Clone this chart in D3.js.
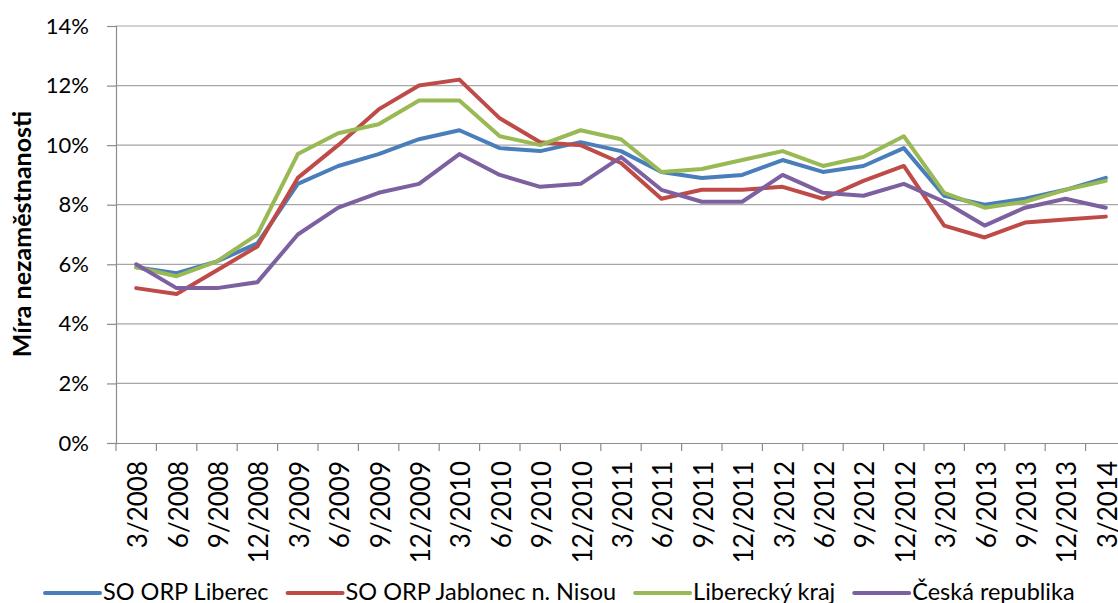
<!DOCTYPE html>
<html>
<head>
<meta charset="utf-8">
<script src="https://cdn.jsdelivr.net/npm/d3@7"></script>
<style>
  body { margin: 0; background: #fff; }
  text { font-family: Lato, "Noto Sans", sans-serif; fill: #000; }
</style>
</head>
<body>
<svg id="chart" width="1118" height="603"></svg>
<script>
const categories = ["3/2008","6/2008","9/2008","12/2008","3/2009","6/2009","9/2009","12/2009",
  "3/2010","6/2010","9/2010","12/2010","3/2011","6/2011","9/2011","12/2011",
  "3/2012","6/2012","9/2012","12/2012","3/2013","6/2013","9/2013","12/2013","3/2014"];

const liberec = [5.9,5.7,6.1,6.7,8.7,9.3,9.7,10.2,10.5,9.9,9.8,10.1,9.8,9.1,8.9,9.0,9.5,9.1,9.3,9.9,8.3,8.0,8.2,8.5,8.9];
const jablonec = [5.2,5.0,5.8,6.6,8.9,10.0,11.2,12.0,12.2,10.9,10.1,10.0,9.4,8.2,8.5,8.5,8.6,8.2,8.8,9.3,7.3,6.9,7.4,7.5,7.6];
const kraj = [5.9,5.6,6.1,7.0,9.7,10.4,10.7,11.5,11.5,10.3,10.0,10.5,10.2,9.1,9.2,9.5,9.8,9.3,9.6,10.3,8.4,7.9,8.1,8.5,8.8];
const cr = [6.0,5.2,5.2,5.4,7.0,7.9,8.4,8.7,9.7,9.0,8.6,8.7,9.6,8.5,8.1,8.1,9.0,8.4,8.3,8.7,8.1,7.3,7.9,8.2,7.9];

const seriesNames = ["SO ORP Liberec", "SO ORP Jablonec n. Nisou", "Liberecký kraj", "Česká republika"];
const seriesColors = ["#4a7ebb", "#be4b48", "#98b954", "#7d60a0"];
const yTicks = [0, 2, 4, 6, 8, 10, 12, 14];

const series = [liberec, jablonec, kraj, cr].map((values, i) => ({
  name: seriesNames[i], color: seriesColors[i], values: values
}));

const svg = d3.select("#chart");
const plotLeft = 116, plotRight = 1126, plotTop = 26, plotBottom = 443;

const x = d3.scaleBand()
  .domain(categories)
  .range([plotLeft, plotRight])
  .padding(0);

const y = d3.scaleLinear()
  .domain([0, 14])
  .range([plotBottom, plotTop]);

// gridlines
svg.append("g")
  .selectAll("line")
  .data(yTicks.filter(d => d > 0))
  .enter().append("line")
  .attr("x1", plotLeft).attr("x2", plotRight)
  .attr("y1", d => y(d)).attr("y2", d => y(d))
  .attr("stroke", "#a6a6a6")
  .attr("stroke-width", 1.2);

// y axis
const yAxis = svg.append("g")
  .attr("transform", `translate(${plotLeft},0)`)
  .call(d3.axisLeft(y).tickValues(yTicks).tickSize(9).tickPadding(18).tickFormat(d => d + "%"));
yAxis.selectAll("path, line").attr("stroke", "#8c8c8c").attr("stroke-width", 1.2);
yAxis.selectAll("text")
  .style("font-size", "22px")
  .attr("fill", "#000");

// x axis
const xAxis = svg.append("g")
  .attr("transform", `translate(0,${plotBottom})`)
  .call(d3.axisBottom(x).tickSize(0).tickSizeOuter(0));
xAxis.select("path").attr("stroke", "#8c8c8c").attr("stroke-width", 1.2);
xAxis.selectAll("text")
  .style("font-size", "26px")
  .attr("fill", "#000")
  .attr("text-anchor", "end")
  .attr("dominant-baseline", "central")
  .attr("transform", "rotate(-90)")
  .attr("x", -18)
  .attr("y", 1)
  .attr("dy", null);

// boundary ticks between categories
svg.append("g")
  .selectAll("line")
  .data(categories)
  .enter().append("line")
  .attr("x1", d => x(d)).attr("x2", d => x(d))
  .attr("y1", plotBottom).attr("y2", plotBottom + 8)
  .attr("stroke", "#8c8c8c")
  .attr("stroke-width", 1.2);

// lines
const line = d3.line()
  .x((d, i) => x(categories[i]) + x.bandwidth() / 2)
  .y(d => y(d));

svg.append("g")
  .selectAll("path")
  .data(series)
  .enter().append("path")
  .attr("fill", "none")
  .attr("stroke", d => d.color)
  .attr("stroke-width", 4)
  .attr("stroke-linejoin", "round")
  .attr("stroke-linecap", "round")
  .attr("d", d => line(d.values));

// y title
svg.append("text")
  .attr("transform", "translate(31,234) rotate(-90)")
  .attr("text-anchor", "middle")
  .style("font-size", "25px")
  .style("font-weight", "bold")
  .text("Míra nezaměstnanosti");

// legend
const legend = svg.append("g").attr("transform", "translate(45,593)");
let lx = 0;
series.forEach(s => {
  legend.append("line")
    .attr("x1", lx).attr("x2", lx + 55)
    .attr("y1", 0).attr("y2", 0)
    .attr("stroke", s.color)
    .attr("stroke-width", 4)
    .attr("stroke-linecap", "round");
  const t = legend.append("text")
    .attr("x", lx + 58)
    .attr("y", 7)
    .style("font-size", "23.5px")
    .text(s.name);
  lx += 58 + t.node().getComputedTextLength() + 19;
});
</script>
</body>
</html>
